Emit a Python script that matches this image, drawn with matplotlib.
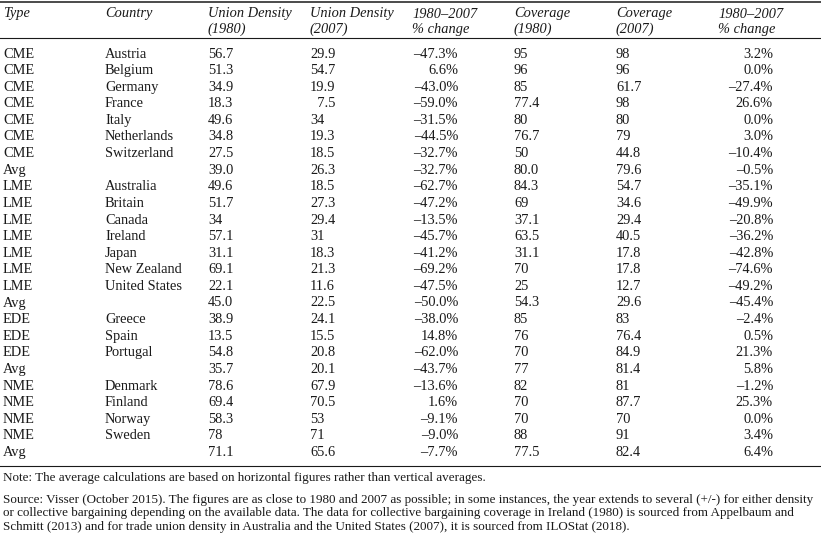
import matplotlib.pyplot as plt

plt.rcParams['font.family'] = ['Liberation Serif', 'DejaVu Serif']

# table content
types = ['CME', 'CME', 'CME', 'CME', 'CME', 'CME', 'CME', 'Avg',
         'LME', 'LME', 'LME', 'LME', 'LME', 'LME', 'LME', 'Avg',
         'EDE', 'EDE', 'EDE', 'Avg',
         'NME', 'NME', 'NME', 'NME', 'Avg']
countries = ['Austria', 'Belgium', 'Germany', 'France', 'Italy', 'Netherlands', 'Switzerland', '',
             'Australia', 'Britain', 'Canada', 'Ireland', 'Japan', 'New Zealand', 'United States', '',
             'Greece', 'Spain', 'Portugal', '',
             'Denmark', 'Finland', 'Norway', 'Sweden', '']
ud_1980 = ['56.7', '51.3', '34.9', '18.3', '49.6', '34.8', '27.5', '39.0',
           '49.6', '51.7', '34', '57.1', '31.1', '69.1', '22.1', '45.0',
           '38.9', '13.5', '54.8', '35.7',
           '78.6', '69.4', '58.3', '78', '71.1']
ud_2007 = ['29.9', '54.7', '19.9', '  7.5', '34', '19.3', '18.5', '26.3',
           '18.5', '27.3', '29.4', '31', '18.3', '21.3', '11.6', '22.5',
           '24.1', '15.5', '20.8', '20.1',
           '67.9', '70.5', '53', '71', '65.6']
ud_change = ['–47.3%', '6.6%', '–43.0%', '–59.0%', '–31.5%', '–44.5%', '–32.7%', '–32.7%',
             '–62.7%', '–47.2%', '–13.5%', '–45.7%', '–41.2%', '–69.2%', '–47.5%', '–50.0%',
             '–38.0%', '14.8%', '–62.0%', '–43.7%',
             '–13.6%', '1.6%', '–9.1%', '–9.0%', '–7.7%']
cov_1980 = ['95', '96', '85', '77.4', '80', '76.7', '50', '80.0',
            '84.3', '69', '37.1', '63.5', '31.1', '70', '25', '54.3',
            '85', '76', '70', '77',
            '82', '70', '70', '88', '77.5']
cov_2007 = ['98', '96', '61.7', '98', '80', '79', '44.8', '79.6',
            '54.7', '34.6', '29.4', '40.5', '17.8', '17.8', '12.7', '29.6',
            '83', '76.4', '84.9', '81.4',
            '81', '87.7', '70', '91', '82.4']
cov_change = ['3.2%', '0.0%', '–27.4%', '26.6%', '0.0%', '3.0%', '–10.4%', '–0.5%',
              '–35.1%', '–49.9%', '–20.8%', '–36.2%', '–42.8%', '–74.6%', '–49.2%', '–45.4%',
              '–2.4%', '0.5%', '21.3%', '5.8%',
              '–1.2%', '25.3%', '0.0%', '3.4%', '6.4%']

headers = [('Type', ''), ('Country', ''), ('Union Density', '(1980)'), ('Union Density', '(2007)'),
           ('1980–2007', '% change'), ('Coverage', '(1980)'), ('Coverage', '(2007)'),
           ('1980–2007', '% change')]

note = 'Note: The average calculations are based on horizontal figures rather than vertical averages.'
source = ['Source: Visser (October 2015). The figures are as close to 1980 and 2007 as possible; in some instances, the year extends to several (+/-) for either density',
          'or collective bargaining depending on the available data. The data for collective bargaining coverage in Ireland (1980) is sourced from Appelbaum and',
          'Schmitt (2013) and for trade union density in Australia and the United States (2007), it is sourced from ILOStat (2018).']

W, H = 821, 534
fig = plt.figure(figsize=(W / 100, H / 100), dpi=100)
ax = fig.add_axes([0, 0, 1, 1])
ax.set_xlim(0, W)
ax.set_ylim(H, 0)
ax.axis('off')

# column x positions (left edge, except % columns which are right aligned)
col_x = [3, 105, 208, 310, 458, 514, 616, 773]
head_x = [3, 105, 208, 310, 412, 514, 616, 718]
align = ['left', 'left', 'left', 'left', 'right', 'left', 'left', 'right']
fs = 10.4
ink = '#1a1a1a'

# rules
ax.plot([0, W], [1.5, 1.5], color=ink, lw=1.1)
ax.plot([0, W], [38, 38], color=ink, lw=0.8)
ax.plot([0, W], [465.5, 465.5], color=ink, lw=0.8)

for x, (l1, l2) in zip(head_x, headers):
    ax.text(x, 17.5, l1, ha='left', va='baseline', fontsize=fs, style='italic', color=ink)
    if l2:
        ax.text(x, 32.5, l2, ha='left', va='baseline', fontsize=fs, style='italic', color=ink)

columns = [types, countries, ud_1980, ud_2007, ud_change, cov_1980, cov_2007, cov_change]
row_h = 16.6
for i in range(len(types)):
    y = 57.5 + i * row_h
    for x, a, col in zip(col_x, align, columns):
        ax.text(x, y, col[i], ha=a, va='baseline', fontsize=fs, color=ink)

ax.text(3, 480.5, note, ha='left', va='baseline', fontsize=9.45, color=ink)
for k, line in enumerate(source):
    ax.text(3, 502.5 + k * 13.8, line, ha='left', va='baseline', fontsize=9.45, color=ink)

fig.savefig('out.png', dpi=100)
